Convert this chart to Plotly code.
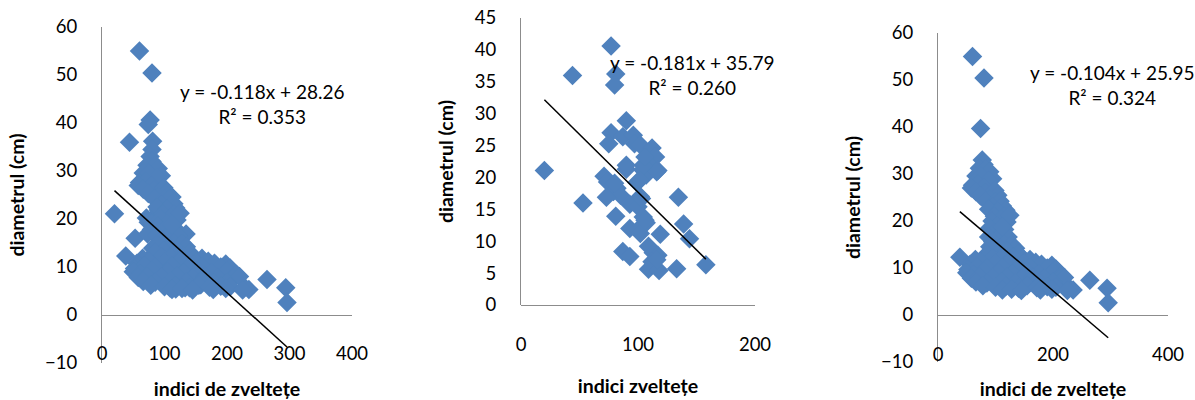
import plotly.graph_objects as go

# ---------------- data ----------------
# panel 2 : indici zveltete vs diametrul
p2_x = [77, 44, 81, 80, 20, 53, 90, 77, 75, 87, 96, 97, 102, 112, 115, 109, 90, 104, 117, 107,
        71, 74, 82, 99, 79, 85, 73, 134.5, 102, 93, 100, 81, 104.5, 139, 107, 93, 100, 119, 102,
        144, 109, 113, 117, 87, 93, 112, 158, 133, 109, 118, 80, 116, 104.5, 101.7, 103, 106, 116,
        106, 90]
p2_y = [40.6, 36, 36.2, 34.5, 21.1, 16.0, 28.9, 27.0, 25.3, 26.4, 26.6, 25.3, 25.1, 24.6, 23.2, 22.2,
        21.3, 21.2, 21.1, 20.4, 20.2, 19.3, 18.3, 19.2, 17.8, 17.2, 16.9, 16.9, 17.0, 15.8, 15.4, 13.9,
        13.8, 12.7, 12.9, 12.0, 11.8, 11.1, 11.2, 10.4, 9.2, 8.2, 7.8, 8.4, 7.6, 6.8, 6.3, 5.7, 5.6,
        5.4, 19.1, 20.9, 21.9, 19.6, 16.7, 13.3, 7.1, 23.2, 21.9]

# panel 3 : indici de zveltete vs diametrul
p3_x = [60, 80, 74, 38, 264, 294, 296, 235, 228,
        77, 80, 72, 84, 90, 66, 75, 95, 88, 60, 70, 79, 58, 66, 83, 99, 104, 74, 90, 84, 100, 108,
        95, 112, 118, 88, 104, 98, 115, 110, 94, 120, 104, 90, 116, 98, 110, 88, 122, 104, 95, 115,
        128, 90, 108, 135, 98, 120, 140, 85, 125, 112,
        65, 95, 110, 130, 148, 160,
        56, 75, 100, 125, 150, 170, 180, 198,
        52, 68, 85, 112, 140, 160, 190, 205,
        50, 62, 80, 105, 130, 155, 175, 200, 215,
        58, 72, 95, 120, 145, 165, 185, 210, 220,
        66, 85, 110, 135, 160, 178, 200,
        78, 100, 118, 140, 155, 172, 190, 205,
        112, 128, 145, 178, 198, 225]
p3_y = [55, 50.4, 39.7, 12.3, 7.4, 5.7, 2.6, 5.3, 5.8,
        33, 32, 31.2, 31, 30.5, 29.6, 29.5, 29, 28.6, 27.6, 27.8, 27, 27, 26.2, 26, 26.5, 25.5, 25.3,
        24.6, 24.2, 24.1, 24.2, 23, 23.2, 22.3, 22.5, 22, 21, 21, 20.3, 20, 19.8, 19, 18.5, 18.2,
        17.5, 17.2, 16.6, 16.6, 16, 15.6, 15, 15, 14.5, 14.2, 14.2, 13.4, 13.5, 13, 13, 21.2, 18.8,
        11.8, 12.1, 12, 12.3, 12.0, 11.8,
        10.8, 11.2, 11, 11.3, 11, 11.2, 10.8, 10.6,
        9.7, 10.2, 10, 10.1, 10, 10.2, 10, 9.8,
        9, 8.6, 9.2, 9, 8.8, 9.1, 8.8, 9.1, 8.5,
        7.8, 8.1, 7.9, 8, 7.7, 8, 7.8, 7.6, 8,
        7, 6.8, 7.1, 6.9, 7, 6.7, 6.9,
        6.2, 5.9, 6.1, 5.7, 6.2, 5.8, 6, 5.9,
        5.3, 5.5, 5.2, 5.3, 5.5, 5.2]

# panel 1 : all trees (panel 2 + panel 3)
p1_x = p2_x + p3_x
p1_y = p2_y + p3_y

slopes = [-0.118, -0.181, -0.104]
intercepts = [28.26, 35.79, 25.95]
r2_values = [0.353, 0.260, 0.324]
x_titles = ["indici de zveltețe", "indici zveltețe", "indici de zveltețe"]
y_title = "diametrul (cm)"

# ---------------- figure ----------------
W, H = 1195, 400
BLUE = "#4F81BD"
AXC = "#8C8C8C"
FONT = "Lato"


def px_x(p):
    return p / W


def px_y(p):
    return 1 - p / H


panels = [
    dict(x=p1_x, y=p1_y, xd=(102, 352), yd=(363, 27), xr=[0, 400], xdt=100, yr=[-10, 60], ydt=10,
         xlab=352, xts=21, eq=(262, 104)),
    dict(x=p2_x, y=p2_y, xd=(521, 755), yd=(305, 18), xr=[0, 200], xdt=100, yr=[0, 45], ydt=5,
         xlab=343, xts=25, eq=(692, 75)),
    dict(x=p3_x, y=p3_y, xd=(938, 1168), yd=(362, 33), xr=[0, 400], xdt=200, yr=[-10, 60], ydt=10,
         xlab=353, xts=21, eq=(1112, 85)),
]

fig = go.Figure()
layout = dict(
    template="none",
    width=W, height=H, margin=dict(l=0, r=0, t=0, b=0, autoexpand=False),
    paper_bgcolor="white", plot_bgcolor="white", showlegend=False,
    font=dict(family=FONT, size=17, color="#000000"),
)
annotations = []

for i, p in enumerate(panels):
    n = "" if i == 0 else str(i + 1)
    xa, ya = "x" + n, "y" + n
    fig.add_trace(go.Scatter(
        x=p["x"], y=p["y"], mode="markers", xaxis=xa, yaxis=ya,
        marker=dict(symbol="diamond", size=15, color=BLUE, line=dict(width=0)),
        hoverinfo="x+y"))
    x0, x1 = min(p["x"]), max(p["x"])
    fig.add_trace(go.Scatter(
        x=[x0, x1], y=[slopes[i] * x0 + intercepts[i], slopes[i] * x1 + intercepts[i]],
        mode="lines", xaxis=xa, yaxis=ya, line=dict(color="black", width=1.5),
        hoverinfo="skip"))
    layout["xaxis" + n] = dict(
        domain=[px_x(p["xd"][0]), px_x(p["xd"][1])], range=p["xr"], dtick=p["xdt"], tick0=0,
        anchor="free", position=px_y(p["xlab"] - 12), showline=False, showgrid=False,
        zeroline=False, ticks="", tickfont=dict(size=18.5), automargin=False,
        title=dict(text="<b>%s</b>" % x_titles[i], font=dict(size=19.5), standoff=p["xts"]))
    layout["yaxis" + n] = dict(
        domain=[px_y(p["yd"][0]), px_y(p["yd"][1])], range=p["yr"], dtick=p["ydt"], tick0=0,
        anchor=xa, showline=True, linecolor=AXC, linewidth=1.2, showgrid=False,
        zeroline=True, zerolinecolor=AXC, zerolinewidth=1.2, ticks="", ticklabelstandoff=20,
        tickfont=dict(size=18.5), automargin=False,
        title=dict(text="<b>%s</b>" % y_title, font=dict(size=19.5), standoff=15))
    annotations.append(dict(
        xref="paper", yref="paper", x=px_x(p["eq"][0]), y=px_y(p["eq"][1]),
        text="y = %.3fx + %.2f<br>R² = %.3f" % (slopes[i], intercepts[i], r2_values[i]),
        showarrow=False, align="center", xanchor="center", yanchor="middle",
        font=dict(size=19, color="black")))

layout["annotations"] = annotations
fig.update_layout(**layout)
fig.write_html("out.html")
